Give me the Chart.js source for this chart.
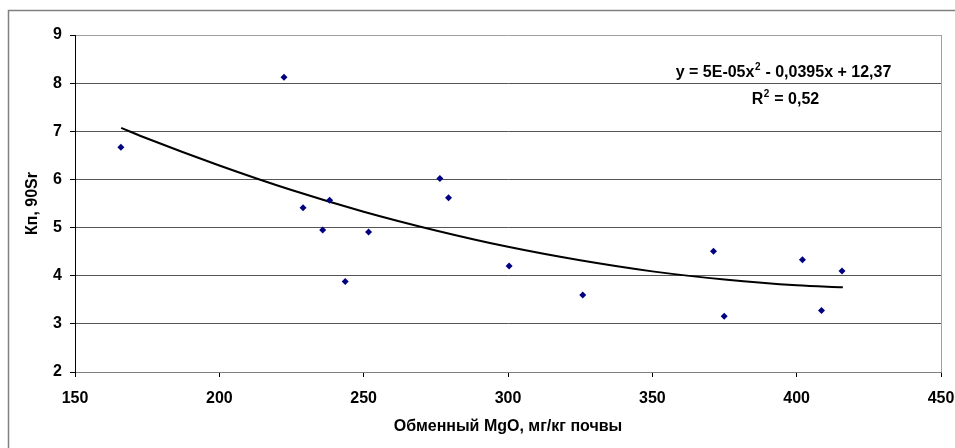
<!DOCTYPE html>
<html>
<head>
<meta charset="utf-8">
<script src="https://cdn.jsdelivr.net/npm/chart.js@4.4.1/dist/chart.umd.min.js"></script>
<style>
    body { margin: 0; background: #fff; }
    canvas { display: block; }
</style>
</head>
<body>
<canvas id="chart" width="955" height="448"></canvas>
<script>
// Data
var mgo = [165.9, 222.4, 229.0, 238.2, 235.8, 243.6, 251.7, 276.4, 279.4, 300.4, 325.9, 371.2, 374.9, 402.0, 408.6, 415.7];
var kp = [6.67, 8.12, 5.41, 5.57, 4.95, 3.88, 4.91, 6.02, 5.62, 4.20, 3.60, 4.51, 3.16, 4.33, 3.28, 4.10];

// trend curve
var trendX = [166, 175, 200, 225, 250, 275, 300, 325, 350, 375, 400, 416];
var trendY = [7.07, 6.85, 6.29, 5.78, 5.33, 4.94, 4.60, 4.32, 4.09, 3.92, 3.80, 3.76];

var xTicks = [150, 200, 250, 300, 350, 400, 450];
var yTicks = [2, 3, 4, 5, 6, 7, 8, 9];

var xTitle = "Обменный MgO, мг/кг почвы";
var yTitle = "Кп, 90Sr";
var eqParts = ["y = 5E-05x", "2", " - 0,0395x + 12,37"];
var r2Parts = ["R", "2", " = 0,52"];

var FONT = "'Liberation Sans', Arial, sans-serif";

function toXY(xs, ys) {
    var out = [];
    for (var i = 0; i < xs.length; i++) out.push({ x: xs[i], y: ys[i] });
    return out;
}

// draws text with a superscript in the middle, centered on cx
function supText(ctx, parts, cx, cy, size) {
    var big = "bold " + size + "px " + FONT;
    var small = "bold " + Math.round(size * 0.62) + "px " + FONT;
    ctx.font = big;
    var w1 = ctx.measureText(parts[0]).width;
    var w3 = ctx.measureText(parts[2]).width;
    ctx.font = small;
    var w2 = ctx.measureText(parts[1]).width;
    var x = cx - (w1 + w2 + w3) / 2;
    ctx.textAlign = "left";
    ctx.textBaseline = "middle";
    ctx.font = big;
    ctx.fillText(parts[0], x, cy);
    ctx.font = small;
    ctx.fillText(parts[1], x + w1 + 0.5, cy - size * 0.38);
    ctx.font = big;
    ctx.fillText(parts[2], x + w1 + w2 + 1, cy);
}

var decor = {
    id: "decor",
    beforeDraw: function (chart) {
        var c = chart.ctx;
        c.save();
        c.fillStyle = "#fff";
        c.fillRect(0, 0, chart.width, chart.height);
        // outer frame (only left and top visible)
        c.strokeStyle = "#808080";
        c.lineWidth = 1.5;
        c.beginPath();
        c.moveTo(8.5, chart.height);
        c.lineTo(8.5, 10.5);
        c.lineTo(chart.width, 10.5);
        c.stroke();
        c.restore();
    },
    afterDraw: function (chart) {
        var c = chart.ctx;
        var a = chart.chartArea;
        c.save();
        // right border of plot area
        c.strokeStyle = "#a0a0a0";
        c.lineWidth = 1;
        c.beginPath();
        c.moveTo(a.right + 0.5, a.top);
        c.lineTo(a.right + 0.5, a.bottom);
        c.stroke();

        c.fillStyle = "#000";
        c.font = "bold 16px " + FONT;
        c.textAlign = "center";
        c.textBaseline = "middle";
        c.fillText(xTitle, (a.left + a.right) / 2, 427);

        c.translate(33, (a.top + a.bottom) / 2);
        c.rotate(-Math.PI / 2);
        c.fillText(yTitle, 0, 0);
        c.setTransform(1, 0, 0, 1, 0, 0);

        supText(c, eqParts, 783, 73, 16);
        supText(c, r2Parts, 785, 100, 16);
        c.restore();
    }
};

new Chart(document.getElementById("chart"), {
    type: "scatter",
    data: {
        datasets: [{
            label: "Кп",
            data: toXY(mgo, kp),
            pointStyle: "rectRot",
            pointRadius: 3.5,
            backgroundColor: "#000080",
            borderColor: "#000080",
            borderWidth: 0,
            order: 1
        }, {
            label: "trend",
            type: "line",
            data: toXY(trendX, trendY),
            borderColor: "#000",
            borderWidth: 2,
            pointRadius: 0,
            cubicInterpolationMode: "monotone",
            fill: false,
            order: 2
        }]
    },
    options: {
        responsive: false,
        animation: false,
        layout: { padding: { left: 8, top: 35, right: 14, bottom: 0 } },
        plugins: {
            legend: { display: false },
            tooltip: { enabled: false }
        },
        scales: {
            x: {
                type: "linear",
                min: 150,
                max: 450,
                afterBuildTicks: function (s) {
                    s.ticks = xTicks.map(function (v) { return { value: v }; });
                },
                afterFit: function (s) {
                    s.height = 76;
                    s.paddingLeft = 0;
                    s.paddingRight = 0;
                },
                border: { color: "#808080", width: 1 },
                grid: {
                    drawOnChartArea: false,
                    drawTicks: true,
                    tickLength: 5,
                    tickColor: "#000"
                },
                ticks: {
                    color: "#000",
                    padding: 12,
                    maxRotation: 0,
                    font: { family: FONT, size: 16, weight: "bold" }
                }
            },
            y: {
                min: 2,
                max: 9,
                afterBuildTicks: function (s) {
                    s.ticks = yTicks.map(function (v) { return { value: v }; });
                },
                afterFit: function (s) {
                    s.width = 67;
                    s.paddingTop = 0;
                    s.paddingBottom = 0;
                },
                border: { color: "#000", width: 1 },
                grid: {
                    color: function (ctx) {
                        if (ctx.tick && ctx.tick.value === 9) return "#a0a0a0";
                        if (ctx.tick && ctx.tick.value === 2) return "#808080";
                        return "#555";
                    },
                    tickColor: "#000",
                    tickLength: 5
                },
                ticks: {
                    color: "#000",
                    padding: 8,
                    font: { family: FONT, size: 16, weight: "bold" }
                }
            }
        }
    },
    plugins: [decor]
});
</script>
</body>
</html>
